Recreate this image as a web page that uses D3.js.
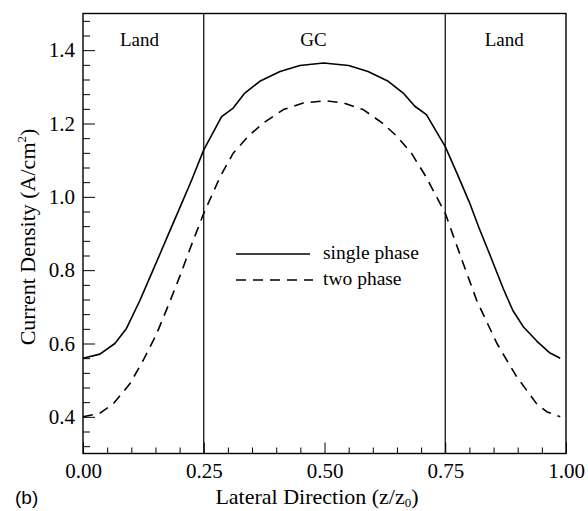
<!DOCTYPE html>
<html>
<head>
<meta charset="utf-8">
<script src="https://cdn.jsdelivr.net/npm/d3@7"></script>
<style>
  body { margin: 0; background: #fff; }
  svg { display: block; font-family: "Liberation Serif", "Times New Roman", serif; }
  .tick line { stroke: #000; stroke-width: 1; }
</style>
</head>
<body>
<svg id="chart"></svg>
<script>
// lateral position (z/z0) and current density (A/cm2)
const single_x = [0, 0.035, 0.066, 0.09, 0.118, 0.14, 0.16, 0.18, 0.201, 0.225, 0.25, 0.287, 0.311,
  0.335, 0.366, 0.408, 0.449, 0.498, 0.55, 0.59, 0.632, 0.663, 0.687, 0.711, 0.75, 0.775, 0.80,
  0.82, 0.843, 0.87, 0.89, 0.912, 0.94, 0.967, 0.988];
const single_y = [0.56, 0.571, 0.6, 0.641, 0.718, 0.785, 0.846, 0.908, 0.972, 1.046, 1.128, 1.219, 1.242,
  1.283, 1.315, 1.342, 1.358, 1.365, 1.358, 1.342, 1.315, 1.283, 1.247, 1.224, 1.137, 1.062, 0.985,
  0.915, 0.84, 0.75, 0.69, 0.645, 0.606, 0.574, 0.56];

const two_x = [0, 0.035, 0.063, 0.097, 0.125, 0.152, 0.18, 0.201, 0.222, 0.25, 0.284, 0.311, 0.342,
  0.373, 0.415, 0.456, 0.503, 0.54, 0.58, 0.62, 0.65, 0.68, 0.71, 0.75, 0.787, 0.815, 0.857, 0.898,
  0.939, 0.96, 0.988];
const two_y = [0.40, 0.41, 0.436, 0.49, 0.555, 0.625, 0.715, 0.785, 0.86, 0.955, 1.055, 1.119, 1.165,
  1.201, 1.238, 1.256, 1.262, 1.256, 1.238, 1.201, 1.165, 1.119, 1.055, 0.955, 0.819, 0.718, 0.6, 0.509,
  0.436, 0.414, 0.40];

const x_major = [0, 0.25, 0.5, 0.75, 1.0];
const x_minor = [0.05, 0.1, 0.15, 0.2, 0.3, 0.35, 0.4, 0.45, 0.55, 0.6, 0.65, 0.7, 0.8, 0.85, 0.9, 0.95];
const y_major = [0.4, 0.6, 0.8, 1.0, 1.2, 1.4];
const y_minor = [0.32, 0.36, 0.44, 0.48, 0.52, 0.56, 0.64, 0.68, 0.72, 0.76, 0.84, 0.88, 0.92, 0.96,
  1.04, 1.08, 1.12, 1.16, 1.24, 1.28, 1.32, 1.36, 1.44, 1.48];

const dividers = [0.25, 0.75];
const regions = [
  { name: "Land", x: 0.117 },
  { name: "GC", x: 0.477 },
  { name: "Land", x: 0.872 },
];
const series = [
  { name: "single phase", xs: single_x, ys: single_y, dash: null },
  { name: "two phase", xs: two_x, ys: two_y, dash: "10,7" },
];

const SERIF = "'Liberation Serif', 'Times New Roman', serif";
const width = 588,
  height = 511;
const margin = { top: 13.5, bottom: 57.5, left: 83, right: 22 };
const inner_bottom = height - margin.bottom;
const inner_right = width - margin.right;

const svg = d3.select("#chart").attr("width", width).attr("height", height);

const X = d3.scaleLinear().domain([0, 1]).range([margin.left, inner_right]);
const Y = d3.scaleLinear().domain([0.3, 1.5]).range([inner_bottom, margin.top]);

// y axis, ticks pointing inward
let yAxis = d3.axisLeft(Y).tickValues(y_major).tickFormat(d3.format(".1f"))
  .tickSizeInner(-12).tickSizeOuter(0).tickPadding(8);
let yMinor = d3.axisLeft(Y).tickValues(y_minor).tickFormat("")
  .tickSizeInner(-7).tickSizeOuter(0);
let xAxis = d3.axisBottom(X).tickValues(x_major).tickFormat(d3.format(".2f"))
  .tickSizeInner(-11).tickSizeOuter(0).tickPadding(10);
let xMinor = d3.axisBottom(X).tickValues(x_minor).tickFormat("")
  .tickSizeInner(-6).tickSizeOuter(0);

let axises_g = svg.append("g");
axises_g.append("g").attr("transform", `translate(${margin.left},0)`).call(yAxis);
axises_g.append("g").attr("transform", `translate(${margin.left},0)`).call(yMinor);
axises_g.append("g").attr("transform", `translate(0,${inner_bottom})`).call(xAxis);
axises_g.append("g").attr("transform", `translate(0,${inner_bottom})`).call(xMinor);
axises_g.selectAll(".domain").remove();
axises_g.selectAll(".tick text")
  .style("font-family", SERIF)
  .style("font-size", "21px")
  .style("fill", "#000");

// frame
svg.append("rect")
  .attr("x", X(0)).attr("y", Y(1.5))
  .attr("width", X(1) - X(0)).attr("height", Y(0.3) - Y(1.5))
  .attr("fill", "none").attr("stroke", "#000").attr("stroke-width", 1.4);

// land / gas channel dividers
svg.selectAll(".divider").data(dividers).enter().append("line")
  .attr("class", "divider")
  .attr("x1", (d) => X(d)).attr("x2", (d) => X(d))
  .attr("y1", Y(1.5)).attr("y2", Y(0.3))
  .attr("stroke", "#000").attr("stroke-width", 1.2);

svg.selectAll(".region").data(regions).enter().append("text")
  .attr("class", "region")
  .attr("x", (d) => X(d.x)).attr("y", 46)
  .attr("text-anchor", "middle")
  .attr("font-size", 19)
  .text((d) => d.name);

const line = d3.line().x((d) => X(d[0])).y((d) => Y(d[1]));

svg.selectAll(".curve").data(series).enter().append("path")
  .attr("class", "curve")
  .attr("d", (d) => line(d3.zip(d.xs, d.ys)))
  .attr("fill", "none")
  .attr("stroke", "#000")
  .attr("stroke-width", 1.6)
  .attr("stroke-linejoin", "round")
  .attr("stroke-dasharray", (d) => d.dash);

// legend
let legend = svg.append("g").attr("transform", "translate(236,254)");
let items = legend.selectAll(".item").data(series).enter().append("g")
  .attr("class", "item")
  .attr("transform", (d, i) => `translate(0,${i * 26})`);
items.append("line")
  .attr("x1", 0).attr("x2", (d) => (d.dash ? 77 : 74))
  .attr("y1", 0).attr("y2", 0)
  .attr("stroke", "#000").attr("stroke-width", 1.6)
  .attr("stroke-dasharray", (d) => d.dash);
items.append("text")
  .attr("x", 87).attr("y", 5)
  .attr("font-size", 19.5)
  .text((d) => d.name);

// axis titles
let xtitle = svg.append("text")
  .attr("x", 317).attr("y", 504)
  .attr("text-anchor", "middle")
  .attr("font-size", 22);
xtitle.append("tspan").text("Lateral Direction (z/z");
xtitle.append("tspan").attr("font-size", 13).attr("dy", 3).text("0");
xtitle.append("tspan").attr("dy", -3).text(")");

let ytitle = svg.append("text")
  .attr("transform", "translate(35,237) rotate(-90)")
  .attr("text-anchor", "middle")
  .attr("font-size", 22);
ytitle.append("tspan").text("Current Density (A/cm");
ytitle.append("tspan").attr("font-size", 13).attr("dy", -9).text("2");
ytitle.append("tspan").attr("dy", 9).text(")");

svg.append("text")
  .attr("x", 15).attr("y", 504)
  .attr("font-family", "'Liberation Sans', Arial, sans-serif")
  .attr("font-size", 19)
  .text("(b)");
</script>
</body>
</html>
